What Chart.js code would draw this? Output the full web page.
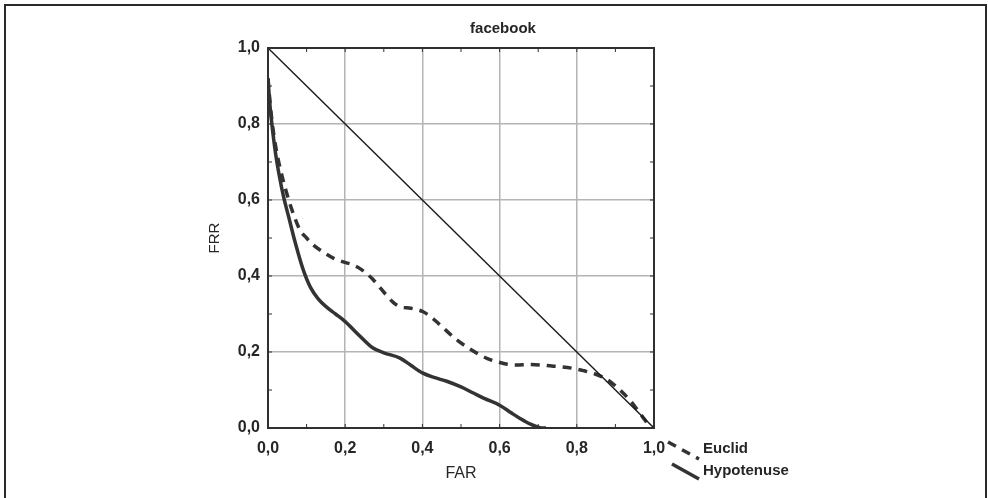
<!DOCTYPE html>
<html>
<head>
<meta charset="utf-8">
<script src="https://cdn.jsdelivr.net/npm/chart.js@4.4.1/dist/chart.umd.min.js"></script>
<style>
  html, body { margin: 0; padding: 0; background: #ffffff; }
  #wrap { width: 988px; height: 498px; position: relative; }
</style>
</head>
<body>
<div id="wrap"><canvas id="c" width="988" height="498"></canvas></div>
<script>
// ---- Data ----
const chartTitle = "facebook";
const xAxisTitle = "FAR";
const yAxisTitle = "FRR";
const seriesNames = ["Euclid", "Hypotenuse"];

const farEuclid = [0, 0.005, 0.01, 0.02, 0.03, 0.045, 0.06, 0.083, 0.1, 0.117, 0.14, 0.169, 0.195, 0.221, 0.245, 0.269, 0.303, 0.325, 0.342, 0.37, 0.402, 0.425, 0.446, 0.489, 0.52, 0.541, 0.57, 0.592, 0.62, 0.644, 0.675, 0.705, 0.735, 0.761, 0.79, 0.817, 0.845, 0.873, 0.895, 0.916, 0.935, 0.951, 0.97, 0.99, 1.0];
const frrEuclid = [0.92, 0.86, 0.81, 0.74, 0.69, 0.63, 0.58, 0.521, 0.5, 0.482, 0.465, 0.447, 0.437, 0.429, 0.415, 0.394, 0.354, 0.33, 0.319, 0.315, 0.306, 0.29, 0.271, 0.232, 0.21, 0.197, 0.182, 0.175, 0.168, 0.166, 0.167, 0.166, 0.163, 0.161, 0.157, 0.151, 0.143, 0.131, 0.115, 0.096, 0.076, 0.056, 0.03, 0.005, 0.0];

const farHypotenuse = [0, 0.005, 0.01, 0.02, 0.03, 0.04, 0.055, 0.07, 0.09, 0.11, 0.13, 0.152, 0.175, 0.2, 0.235, 0.27, 0.3, 0.342, 0.37, 0.4, 0.43, 0.463, 0.5, 0.532, 0.56, 0.6, 0.63, 0.653, 0.68, 0.705, 0.72];
const frrHypotenuse = [0.92, 0.85, 0.8, 0.72, 0.66, 0.61, 0.55, 0.49, 0.42, 0.37, 0.34, 0.318, 0.3, 0.28, 0.245, 0.212, 0.198, 0.184, 0.165, 0.145, 0.133, 0.123, 0.108, 0.092, 0.078, 0.06, 0.04, 0.025, 0.01, 0.001, 0.0];

const farDiagonal = [0, 1];
const frrDiagonal = [1, 0];

const tickValues = [0, 0.2, 0.4, 0.6, 0.8, 1.0];
const tickLabels = ["0,0", "0,2", "0,4", "0,6", "0,8", "1,0"];

// ---- helpers ----
const toPoints = (xs, ys) => xs.map((x, i) => ({ x: x, y: ys[i] }));
const labelFor = (v) => {
  const i = tickValues.findIndex(t => Math.abs(t - v) < 1e-6);
  return i >= 0 ? tickLabels[i] : '';
};
const isMajor = (v) => tickValues.some(t => Math.abs(t - v) < 1e-6);

const FONT = "'Liberation Sans', Arial, sans-serif";
const INK = '#262626';

const decor = {
  id: 'decor',
  afterDraw(chart) {
    const ctx = chart.ctx;
    const a = chart.chartArea;
    const xs = chart.scales.x, ys = chart.scales.y;
    ctx.save();
    // outer frame of the figure
    ctx.strokeStyle = '#2a2a2a';
    ctx.lineWidth = 2;
    ctx.beginPath();
    ctx.moveTo(5, 510); ctx.lineTo(5, 5); ctx.lineTo(986, 5); ctx.lineTo(986, 510);
    ctx.stroke();

    // plot frame
    ctx.strokeStyle = '#303030';
    ctx.lineWidth = 2;
    ctx.strokeRect(a.left, a.top, a.right - a.left, a.bottom - a.top);

    // inner minor ticks every 0.1 on all four sides
    ctx.lineWidth = 1;
    ctx.strokeStyle = '#303030';
    ctx.beginPath();
    for (let k = 1; k < 10; k++) {
      const v = k / 10;
      const px = xs.getPixelForValue(v);
      const py = ys.getPixelForValue(v);
      ctx.moveTo(px, a.bottom); ctx.lineTo(px, a.bottom - 4);
      ctx.moveTo(px, a.top); ctx.lineTo(px, a.top + 4);
      ctx.moveTo(a.left, py); ctx.lineTo(a.left + 4, py);
      ctx.moveTo(a.right, py); ctx.lineTo(a.right - 4, py);
    }
    ctx.stroke();

    // chart title
    ctx.fillStyle = INK;
    ctx.font = "bold 15px " + FONT;
    ctx.textAlign = 'center';
    ctx.textBaseline = 'middle';
    ctx.fillText(chartTitle, 503, 29);

    // legend (slanted line samples, as in the reference)
    const dsE = chart.data.datasets[1];
    const dsH = chart.data.datasets[2];
    ctx.lineCap = 'butt';
    ctx.strokeStyle = dsE.borderColor;
    ctx.lineWidth = dsE.borderWidth;
    ctx.setLineDash(dsE.borderDash);
    ctx.beginPath(); ctx.moveTo(668, 442); ctx.lineTo(699, 459); ctx.stroke();
    ctx.setLineDash([]);
    ctx.strokeStyle = dsH.borderColor;
    ctx.lineWidth = dsH.borderWidth;
    ctx.beginPath(); ctx.moveTo(672, 464); ctx.lineTo(699, 479); ctx.stroke();
    ctx.fillStyle = INK;
    ctx.font = "bold 15px " + FONT;
    ctx.textAlign = 'left';
    ctx.fillText(dsE.label, 703, 449);
    ctx.fillText(dsH.label, 703, 471);
    ctx.restore();
  }
};

new Chart(document.getElementById('c'), {
  type: 'scatter',
  data: {
    datasets: [
      {
        label: 'diagonal',
        data: toPoints(farDiagonal, frrDiagonal),
        showLine: true, borderColor: '#1a1a1a', borderWidth: 1.4,
        pointRadius: 0, fill: false
      },
      {
        label: seriesNames[0],
        data: toPoints(farEuclid, frrEuclid),
        showLine: true, borderColor: '#333333', borderWidth: 3.5,
        borderDash: [9, 7], pointRadius: 0, fill: false,
        cubicInterpolationMode: 'monotone'
      },
      {
        label: seriesNames[1],
        data: toPoints(farHypotenuse, frrHypotenuse),
        showLine: true, borderColor: '#333333', borderWidth: 3.5,
        pointRadius: 0, fill: false,
        cubicInterpolationMode: 'monotone'
      }
    ]
  },
  options: {
    responsive: false,
    animation: false,
    events: [],
    layout: { padding: { left: 200, top: 48, right: 334, bottom: 0 } },
    plugins: { legend: { display: false }, title: { display: false }, tooltip: { enabled: false } },
    scales: {
      x: {
        type: 'linear', min: 0, max: 1,
        afterFit: (s) => { s.height = 70; },
        border: { display: false },
        grid: {
          drawTicks: false,
          color: (c) => isMajor(c.tick ? c.tick.value : -1) ? '#b4b4b4' : 'rgba(0,0,0,0)',
          lineWidth: 1.5
        },
        ticks: {
          stepSize: 0.1, autoSkip: false, maxRotation: 0, padding: 11,
          color: INK, font: { family: FONT, size: 16, weight: 'bold' },
          callback: (v) => labelFor(v)
        },
        title: {
          display: true, text: xAxisTitle, color: INK,
          font: { family: FONT, size: 16 }, padding: { top: 0, bottom: 15 }
        }
      },
      y: {
        type: 'linear', min: 0, max: 1,
        afterFit: (s) => { s.width = 68; },
        border: { display: false },
        grid: {
          drawTicks: false,
          color: (c) => isMajor(c.tick ? c.tick.value : -1) ? '#b4b4b4' : 'rgba(0,0,0,0)',
          lineWidth: 1.5
        },
        ticks: {
          stepSize: 0.1, autoSkip: false, padding: 8,
          color: INK, font: { family: FONT, size: 16, weight: 'bold' },
          callback: (v) => labelFor(v)
        },
        title: {
          display: true, text: yAxisTitle, color: INK,
          font: { family: FONT, size: 15 }, padding: { top: 6, bottom: 0 }
        }
      }
    }
  },
  plugins: [decor]
});
</script>
</body>
</html>
